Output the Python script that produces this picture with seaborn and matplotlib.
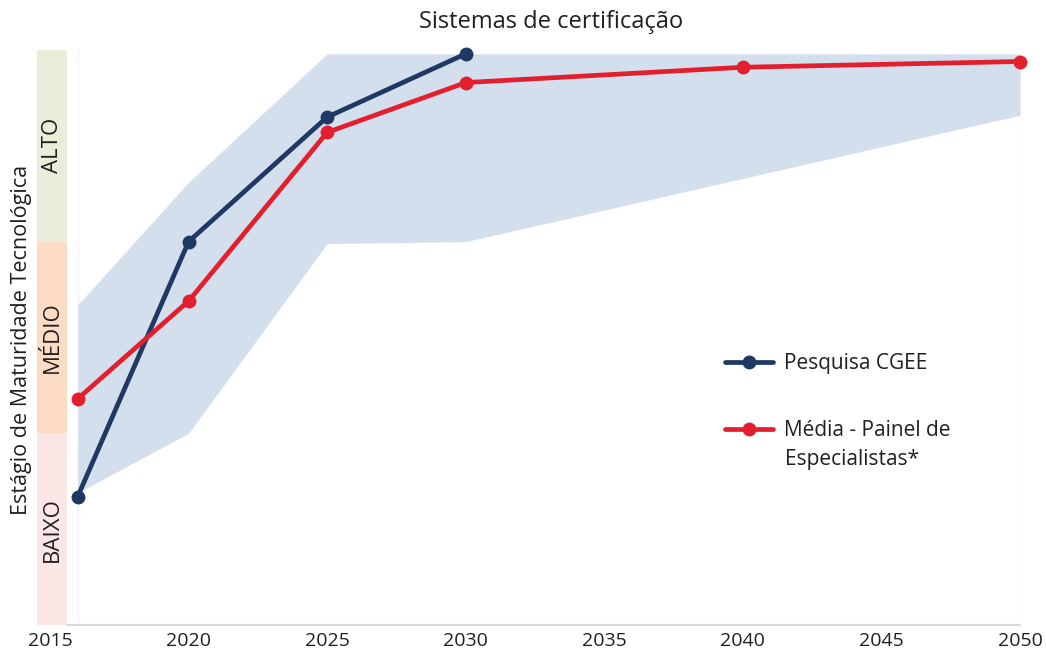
import seaborn as sns
import pandas as pd
import matplotlib.pyplot as plt

# data (maturity levels: 0 = bottom of BAIXO, 3 = top of ALTO)
anos_cgee = [2016, 2020, 2025, 2030]
cgee = [0.67, 2.0, 2.65, 2.98]
anos_painel = [2016, 2020, 2025, 2030, 2040, 2050]
painel = [1.18, 1.69, 2.57, 2.83, 2.91, 2.94]
anos_faixa = [2016, 2020, 2025, 2030, 2050]
faixa_sup = [1.67, 2.31, 2.98, 2.98, 2.98]
faixa_inf = [0.69, 1.0, 1.99, 2.0, 2.66]
anos_ticks = [2015, 2020, 2025, 2030, 2035, 2040, 2045, 2050]
niveis = ["BAIXO", "MÉDIO", "ALTO"]
cores_niveis = ["#fbe6e6", "#fddcc6", "#e9eedb"]

serie1 = "Pesquisa CGEE"
serie2 = "Média - Painel de"
serie2_linha2 = "Especialistas*"

df = pd.concat([
    pd.DataFrame({"Ano": anos_cgee, "Nivel": cgee, "Serie": serie1}),
    pd.DataFrame({"Ano": anos_painel, "Nivel": painel, "Serie": serie2}),
])

sns.set_style("white")
plt.rcParams['font.family'] = ['Open Sans', 'DejaVu Sans']
texto = "#231f20"

# axes: 2015 at px 50, 2050 at px 1020
px_ano = (1020 - 50) / 35
x0 = 2015 - (50 - 37) / px_ano
x_banda = 2015 + (67 - 50) / px_ano

fig = plt.figure(figsize=(10.46, 6.58), dpi=100)
ax = fig.add_axes([37/1046, 33/658, (1020-37)/1046, (625-50)/658])
ax.set_xlim(x0, 2050)
ax.set_ylim(0, 3)

# maturity bands on the left
for i, (nome, cor) in enumerate(zip(niveis, cores_niveis)):
    ax.fill_between([x0, x_banda], i, i + 1, color=cor, lw=0, zorder=0)
    ax.text((x0 + x_banda) / 2, i + 0.5, nome, rotation=90, ha="center", va="center",
            fontsize=16, color=texto)

# range band
ax.fill_between(anos_faixa, faixa_inf, faixa_sup, color="#d4dfee", lw=0, zorder=1)
ax.axvline(2016, color="#f3f4fa", lw=1, zorder=0.5)
ax.axvline(2050, color="#f4f4f4", lw=1, zorder=0.5)

sns.lineplot(data=df, x="Ano", y="Nivel", hue="Serie",
             palette=["#1f3864", "#e31e2d"], marker="o", markersize=10,
             markeredgewidth=0, linewidth=3.4, ax=ax, zorder=3, clip_on=False)

# baseline
ax.plot([x_banda, 2050], [0, 0], color="#d9d9d9", lw=1.5, clip_on=False, zorder=2)

for s in ax.spines.values():
    s.set_visible(False)
ax.set_yticks([])
ax.set_xticks(anos_ticks)
ax.set_xticklabels([str(a) for a in anos_ticks], fontsize=14, color=texto)
ax.tick_params(axis="x", length=0, pad=5)
ax.set_xlabel("")
ax.set_ylabel("")

fig.text(22/1046, 1 - 340/658, "Estágio de Maturidade Tecnológica", rotation=90,
         ha="center", va="center", fontsize=15.5, color=texto)
fig.text(551/1046, 1 - 22/658, "Sistemas de certificação", ha="center", va="center",
         fontsize=17, color=texto)

leg = ax.legend(loc="upper left", bbox_to_anchor=(725/1046, 1 - 353/658),
                bbox_transform=fig.transFigure, frameon=False, fontsize=15,
                handlelength=2.3, handletextpad=0.55, labelspacing=2.2,
                borderpad=0, borderaxespad=0)
for t in leg.get_texts():
    t.set_color(texto)
fig.text(785/1046, 1 - 460/658, serie2_linha2, ha="left", va="center",
         fontsize=15, color=texto)

fig.savefig("out.png", dpi=100)
